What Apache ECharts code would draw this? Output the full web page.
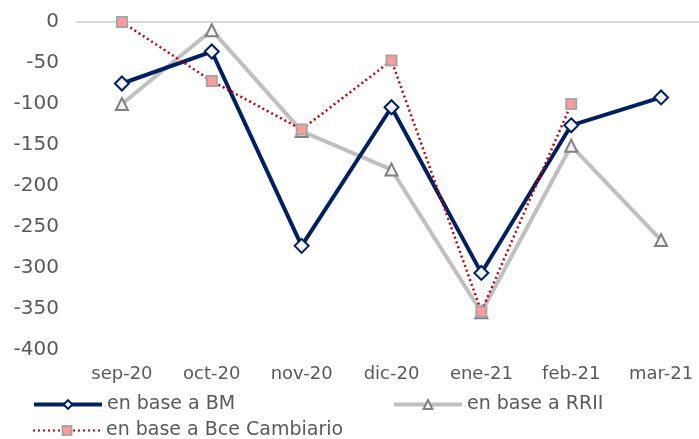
<!DOCTYPE html>
<html>
<head>
<meta charset="utf-8">
<script src="https://cdn.jsdelivr.net/npm/echarts@6/dist/echarts.min.js"></script>
<style>
  html, body { margin: 0; padding: 0; background: #ffffff; overflow: hidden; }
  /* the plot area runs slightly past the right edge of the window */
  #chart { width: 712px; height: 439px; }
</style>
</head>
<body>
<div id="chart"></div>
<script>
// Monthly series (values in the unit of the y axis)
const months = ['sep-20', 'oct-20', 'nov-20', 'dic-20', 'ene-21', 'feb-21', 'mar-21'];
const baseBM = [-75, -36, -273, -104, -306, -126, -92];
const baseRRII = [-100, -10, -133, -180, -354, -151, -266];
const baseBce = [0, -72, -131, -47, -353, -100, null];

const seriesNames = ['en base a BM', 'en base a RRII', 'en base a Bce Cambiario'];
const yTicks = { min: -400, max: 0, step: 50 };

const textColor = '#595959';
const fontFamily = '"DejaVu Sans", sans-serif';
const fontSize = 19;

const chart = echarts.init(document.getElementById('chart'), null, { renderer: 'canvas' });

function legendItem(name, left, top, lineColor, lineWidth, lineType) {
  return {
    data: [name],
    left: left,
    top: top,
    padding: 0,
    itemWidth: 68,
    itemHeight: 11,
    lineStyle: { color: lineColor, width: lineWidth, type: lineType },
    textStyle: { color: textColor, fontFamily: fontFamily, fontSize: fontSize }
  };
}

chart.setOption({
  animation: false,
  backgroundColor: '#ffffff',
  grid: { left: 77, width: 629, top: 22, bottom: 89 },
  legend: [
    legendItem(seriesNames[0], 32, 395, '#002060', 4, 'solid'),
    legendItem(seriesNames[1], 392, 395, '#bfbfbf', 4, 'solid'),
    legendItem(seriesNames[2], 32, 421, '#c00000', 2, [2, 3])
  ],
  xAxis: [
    {
      type: 'category',
      data: months,
      position: 'bottom',
      boundaryGap: true,
      axisLine: { show: false },
      axisTick: { show: false },
      axisLabel: { color: textColor, fontFamily: fontFamily, fontSize: 18, margin: 15 }
    },
    {
      // zero line along the top edge of the plot
      type: 'category',
      data: months,
      position: 'top',
      boundaryGap: true,
      axisLine: { show: true, lineStyle: { color: '#d9d9d9', width: 2 } },
      axisTick: { show: false },
      axisLabel: { show: false }
    }
  ],
  yAxis: {
    type: 'value',
    min: yTicks.min,
    max: yTicks.max,
    interval: yTicks.step,
    axisLine: { show: false },
    axisTick: { show: false },
    splitLine: { show: false },
    axisLabel: { color: textColor, fontFamily: fontFamily, fontSize: 20, margin: 18 }
  },
  series: [
    {
      name: seriesNames[1],
      type: 'line',
      data: baseRRII,
      z: 2,
      symbol: 'triangle',
      symbolSize: 12,
      lineStyle: { color: '#bfbfbf', width: 4 },
      itemStyle: { color: '#f2f2f2', borderColor: '#808080', borderWidth: 2 }
    },
    {
      name: seriesNames[0],
      type: 'line',
      data: baseBM,
      z: 3,
      symbol: 'diamond',
      symbolSize: 14,
      lineStyle: { color: '#002060', width: 4 },
      itemStyle: { color: '#f2f2f2', borderColor: '#002060', borderWidth: 2 }
    },
    {
      name: seriesNames[2],
      type: 'line',
      data: baseBce,
      z: 4,
      symbol: 'rect',
      symbolSize: 10,
      lineStyle: { color: '#c00000', width: 2.5, type: [2, 3] },
      itemStyle: { color: '#ff9b9b', borderColor: '#a6a6a6', borderWidth: 2 }
    }
  ]
});
</script>
</body>
</html>
